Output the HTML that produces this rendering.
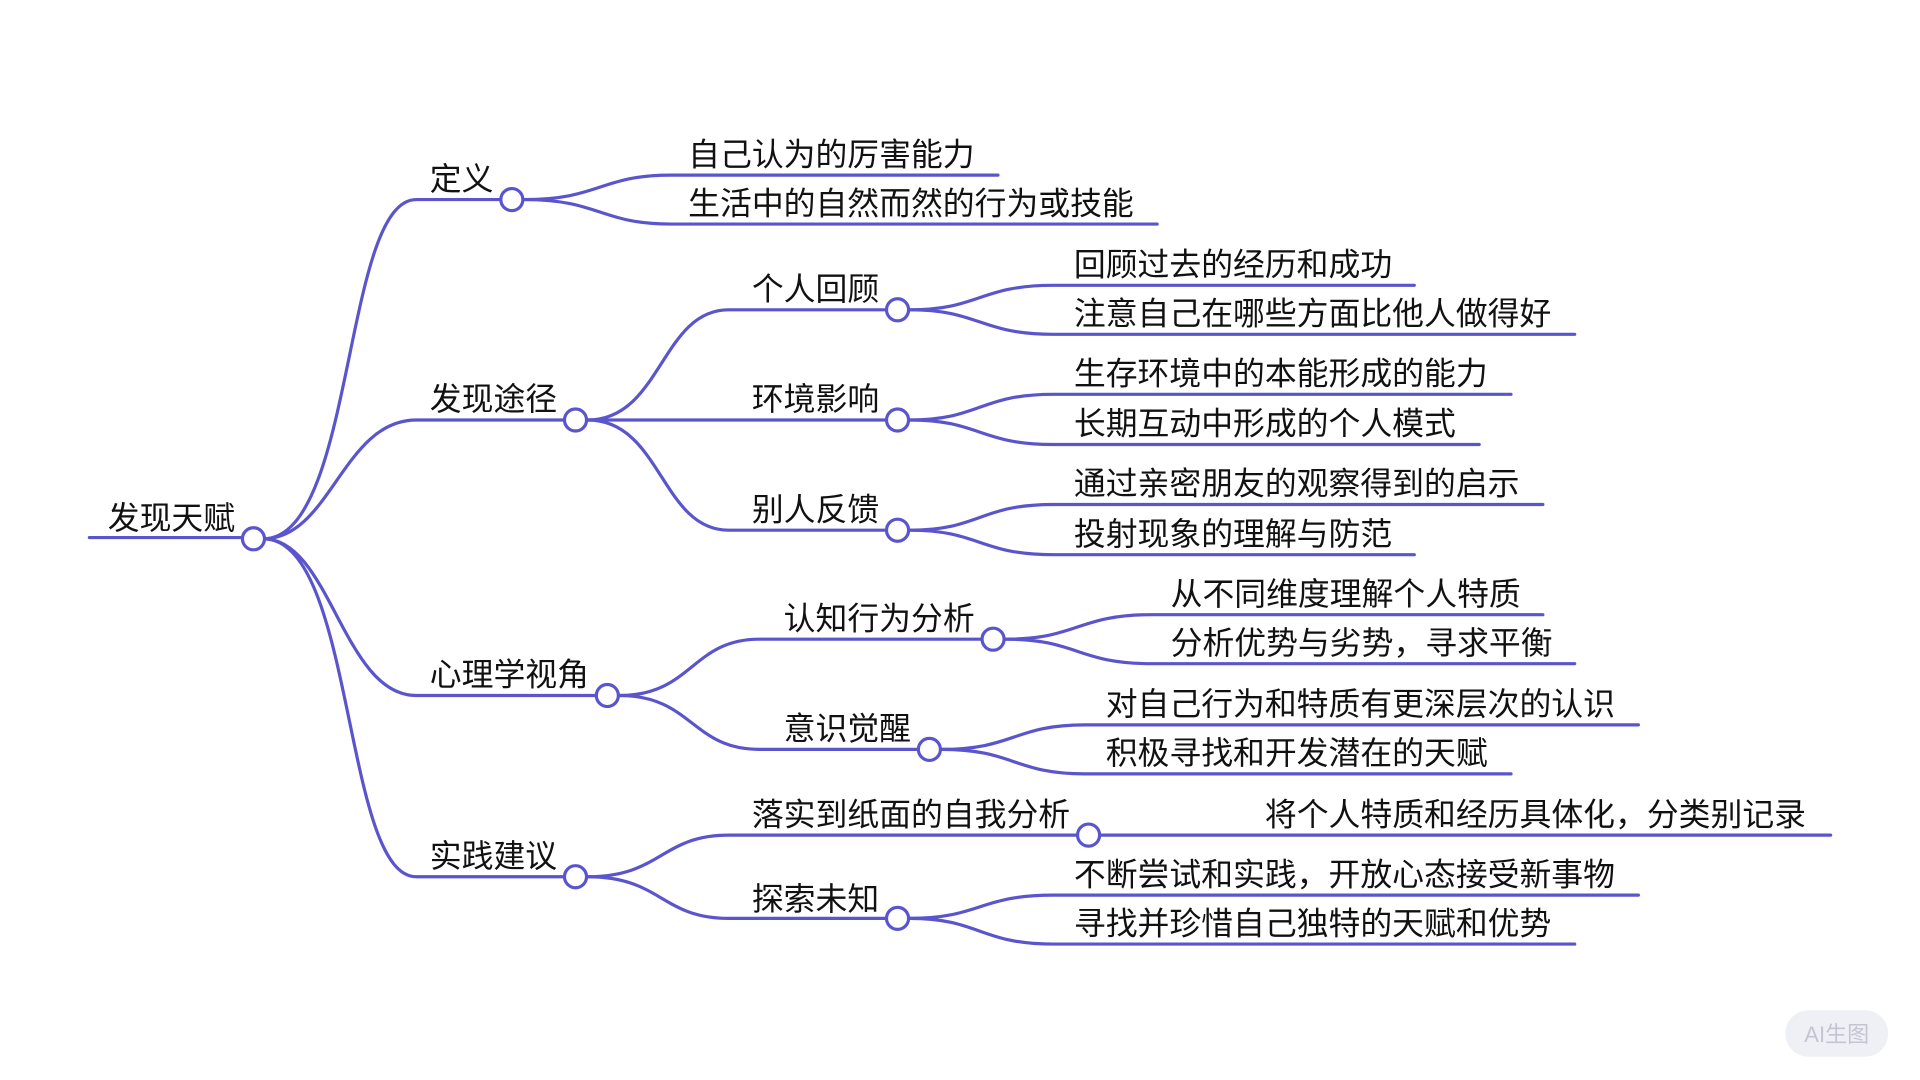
<!DOCTYPE html>
<html><head><meta charset="utf-8"><style>
html,body{margin:0;padding:0;background:#fff;}
svg{display:block}
text{font-family:"Liberation Sans","Noto Sans CJK SC",sans-serif;font-size:26px;fill:#111;}
</style></head><body>
<svg width="1920" height="1080" viewBox="0 0 1568 882" xmlns="http://www.w3.org/2000/svg">
<g fill="none" stroke="#5a55cc" stroke-width="2.6" stroke-linecap="round">
<path d="M73 439 H200"/>
<path d="M215 440 C 290 440 280 163 340 163 H408"/>
<path d="M215 440 C 270 440 280 343 340 343 H460"/>
<path d="M215 440 C 270 440 280 568 340 568 H486"/>
<path d="M215 440 C 290 440 280 716 340 716 H460"/>
<path d="M428 163 C 490 163 490 143 548 143 H815"/>
<path d="M428 163 C 490 163 490 183 548 183 H945"/>
<path d="M480 343 C 540 343 540 253 595 253 H723"/>
<path d="M480 343 H723"/>
<path d="M480 343 C 540 343 540 433 595 433 H723"/>
<path d="M743 253 C 800 253 800 233 860 233 H1155"/>
<path d="M743 253 C 800 253 800 273 860 273 H1286"/>
<path d="M743 343 C 800 343 800 322 860 322 H1234"/>
<path d="M743 343 C 800 343 800 363 860 363 H1208"/>
<path d="M743 433 C 800 433 800 412 860 412 H1260"/>
<path d="M743 433 C 800 433 800 453 860 453 H1155"/>
<path d="M506 568 C 565 568 565 522 620 522 H801"/>
<path d="M506 568 C 565 568 565 612 620 612 H749"/>
<path d="M821 522 C 880 522 880 502 940 502 H1260"/>
<path d="M821 522 C 880 522 880 542 940 542 H1286"/>
<path d="M769 612 C 828 612 828 592 886 592 H1338"/>
<path d="M769 612 C 828 612 828 632 886 632 H1234"/>
<path d="M480 716 C 540 716 540 682 595 682 H879"/>
<path d="M480 716 C 540 716 540 750 595 750 H723"/>
<path d="M899 682 H1495"/>
<path d="M743 750 C 800 750 800 731 860 731 H1338"/>
<path d="M743 750 C 800 750 800 771 860 771 H1286"/>
</g>
<g fill="#fff" stroke="#5a55cc" stroke-width="2.6">
<circle cx="207" cy="440" r="9"/>
<circle cx="418" cy="163" r="9"/>
<circle cx="470" cy="343" r="9"/>
<circle cx="496" cy="568" r="9"/>
<circle cx="470" cy="716" r="9"/>
<circle cx="733" cy="253" r="9"/>
<circle cx="733" cy="343" r="9"/>
<circle cx="733" cy="433" r="9"/>
<circle cx="811" cy="522" r="9"/>
<circle cx="759" cy="612" r="9"/>
<circle cx="889" cy="682" r="9"/>
<circle cx="733" cy="750" r="9"/>
</g>
<text x="88" y="432">发现天赋</text>
<text x="351" y="155">定义</text>
<text x="351" y="335">发现途径</text>
<text x="351" y="560">心理学视角</text>
<text x="351" y="708">实践建议</text>
<text x="562" y="135">自己认为的厉害能力</text>
<text x="562" y="175">生活中的自然而然的行为或技能</text>
<text x="614" y="245">个人回顾</text>
<text x="614" y="335">环境影响</text>
<text x="614" y="425">别人反馈</text>
<text x="877" y="225">回顾过去的经历和成功</text>
<text x="877" y="265">注意自己在哪些方面比他人做得好</text>
<text x="877" y="314">生存环境中的本能形成的能力</text>
<text x="877" y="355">长期互动中形成的个人模式</text>
<text x="877" y="404">通过亲密朋友的观察得到的启示</text>
<text x="877" y="445">投射现象的理解与防范</text>
<text x="640" y="514">认知行为分析</text>
<text x="640" y="604">意识觉醒</text>
<text x="956" y="494">从不同维度理解个人特质</text>
<text x="956" y="534">分析优势与劣势，寻求平衡</text>
<text x="903" y="584">对自己行为和特质有更深层次的认识</text>
<text x="903" y="624">积极寻找和开发潜在的天赋</text>
<text x="614" y="674">落实到纸面的自我分析</text>
<text x="614" y="743">探索未知</text>
<text x="1033" y="674">将个人特质和经历具体化，分类别记录</text>
<text x="877" y="723">不断尝试和实践，开放心态接受新事物</text>
<text x="877" y="763">寻找并珍惜自己独特的天赋和优势</text>
<rect x="1458" y="825" width="84" height="38" rx="19" fill="#eef0f5"/>
<text x="1500" y="851" text-anchor="middle" style="font-size:18px;fill:#c3c6d2">AI生图</text>
</svg>
</body></html>
